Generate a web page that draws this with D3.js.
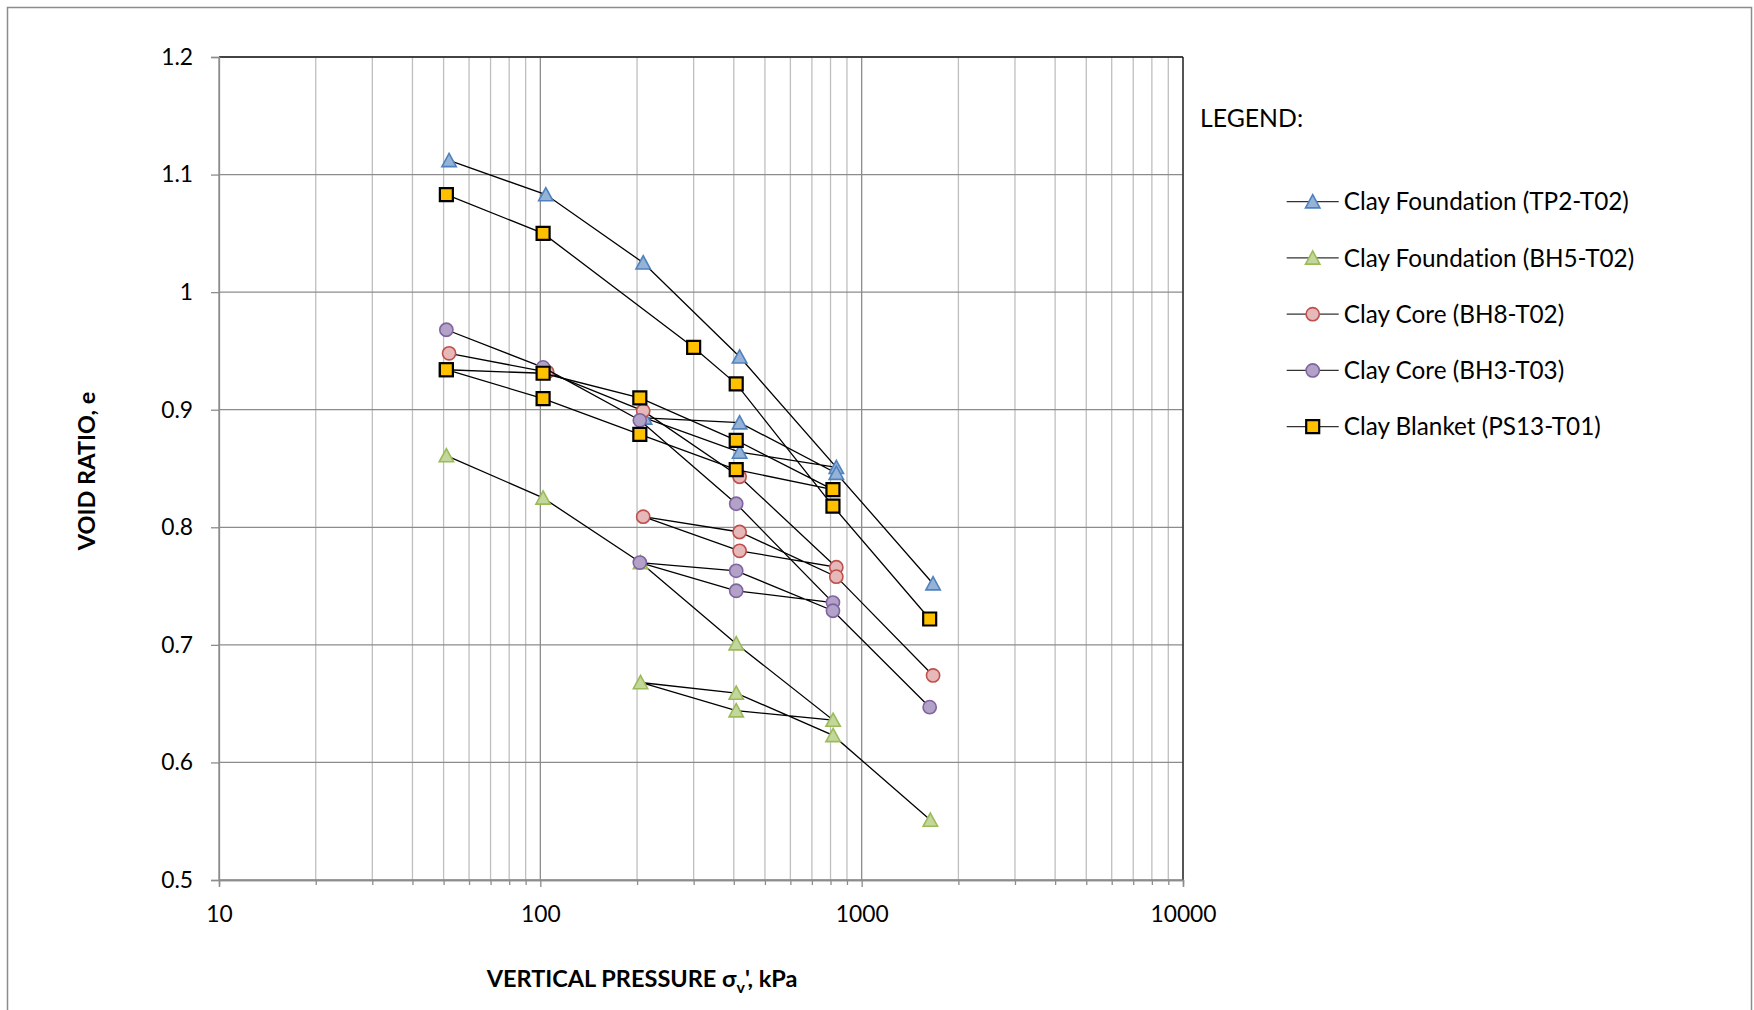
<!DOCTYPE html>
<html>
<head>
<meta charset="utf-8">
<script src="https://cdn.jsdelivr.net/npm/d3@7"></script>
<style>
  html, body { margin: 0; padding: 0; background: #ffffff; }
  svg { display: block; }
  text { font-family: Lato, "Open Sans", "Liberation Sans", sans-serif; fill: #000;
         font-variant-ligatures: none; font-feature-settings: "liga" 0, "clig" 0; }
</style>
</head>
<body>
<svg id="chart" width="1754" height="1010"></svg>
<script>
// Oedometer results: void ratio vs. vertical effective pressure (log scale)

const seriesNames = [
  "Clay Foundation (TP2-T02)",
  "Clay Foundation (BH5-T02)",
  "Clay Core (BH8-T02)",
  "Clay Core (BH3-T03)",
  "Clay Blanket (PS13-T01)"
];

// Pressures in kPa, void ratios e (null breaks the line)
const tp2Pressure = [52, 104, 209, 417, 834, 417, 211, 417, 834, 1668];
const tp2Void     = [1.112, 1.083, 1.025, 0.945, 0.851, 0.864, 0.893, 0.889, 0.846, 0.752];

const bh5Pressure = [51, 102, 205, 407, 815, 407, 205, 407, 815, 1636];
const bh5Void     = [0.861, 0.825, 0.770, 0.701, 0.636, 0.644, 0.668, 0.659, 0.623, 0.551];

const bh8Pressure = [52, 105, 209, 417, 834, 417, 209, 417, 834, 1668];
const bh8Void     = [0.948, 0.932, 0.899, 0.843, 0.766, 0.780, 0.809, 0.796, 0.758, 0.674];

const bh3Pressure = [51, 102, 204, 407, 814, 407, 204, 407, 814, 1628];
const bh3Void     = [0.968, 0.936, 0.891, 0.820, 0.736, 0.746, 0.770, 0.763, 0.729, 0.647];

const ps13Pressure = [51, 102, 300, 407, 814, 1628, null, 51, 102, 204, 407, 814, 407, 204, 102, 51];
const ps13Void     = [1.083, 1.050, 0.953, 0.922, 0.818, 0.722, null, 0.934, 0.931, 0.910, 0.874, 0.832, 0.849, 0.879, 0.9095, 0.934];

const xTicks = [10, 100, 1000, 10000];
const xTickLabels = ["10", "100", "1000", "10000"];
const yTicks = [0.5, 0.6, 0.7, 0.8, 0.9, 1.0, 1.1, 1.2];
const yTickLabels = ["0.5", "0.6", "0.7", "0.8", "0.9", "1", "1.1", "1.2"];

const markerShapes = ["triangle", "triangle", "circle", "circle", "square"];
const markerFills   = ["#95B3D7", "#C3D69B", "#E6B9B8", "#B3A2C7", "#FFC000"];
const markerStrokes = ["#4F81BD", "#9BBB59", "#C0504D", "#8064A2", "#000000"];

const pressures = [tp2Pressure, bh5Pressure, bh8Pressure, bh3Pressure, ps13Pressure];
const voids = [tp2Void, bh5Void, bh8Void, bh3Void, ps13Void];

const svg = d3.select("#chart");
const plot = { left: 219, right: 1183, top: 57, bottom: 880 };

const x = d3.scaleLog().domain([10, 10000]).range([plot.left, plot.right]);
const y = d3.scaleLinear().domain([0.5, 1.2]).range([plot.bottom, plot.top]);

// outer frame
svg.append("rect")
  .attr("x", 7.5).attr("y", 7.5)
  .attr("width", 1744).attr("height", 1030)
  .attr("fill", "none").attr("stroke", "#8c8c8c").attr("stroke-width", 1.5);

// minor + major log gridlines
const minorX = [];
for (let d = 10; d < 10000; d *= 10) {
  for (let k = 2; k <= 9; k++) minorX.push(d * k);
}
const grid = svg.append("g");
grid.selectAll("line.minor").data(minorX).join("line")
  .attr("x1", d => x(d)).attr("x2", d => x(d))
  .attr("y1", plot.top).attr("y2", plot.bottom)
  .attr("stroke", "#bfbfbf").attr("stroke-width", 1.3);
grid.selectAll("line.majorx").data(xTicks).join("line")
  .attr("x1", d => x(d)).attr("x2", d => x(d))
  .attr("y1", plot.top).attr("y2", plot.bottom)
  .attr("stroke", "#8c8c8c").attr("stroke-width", 1.3);
grid.selectAll("line.majory").data(yTicks).join("line")
  .attr("x1", plot.left).attr("x2", plot.right)
  .attr("y1", d => y(d)).attr("y2", d => y(d))
  .attr("stroke", "#8c8c8c").attr("stroke-width", 1.3);

// plot frame top/right
svg.append("line").attr("x1", plot.left).attr("x2", plot.right)
  .attr("y1", plot.top).attr("y2", plot.top).attr("stroke", "#222").attr("stroke-width", 1.3);
svg.append("line").attr("x1", plot.right).attr("x2", plot.right)
  .attr("y1", plot.top).attr("y2", plot.bottom).attr("stroke", "#222").attr("stroke-width", 1.3);

// axes
const yAxis = svg.append("g").attr("transform", `translate(${plot.left},0)`)
  .call(d3.axisLeft(y).tickValues(yTicks).tickSize(8).tickPadding(18)
    .tickFormat((d, i) => yTickLabels[i]));
const xMinorAxis = svg.append("g").attr("transform", `translate(0,${plot.bottom})`)
  .call(d3.axisBottom(x).tickValues(minorX).tickSize(5).tickFormat(""));
const xAxis = svg.append("g").attr("transform", `translate(0,${plot.bottom})`)
  .call(d3.axisBottom(x).tickValues(xTicks).tickSize(7).tickPadding(19)
    .tickFormat((d, i) => xTickLabels[i]));
[yAxis, xMinorAxis, xAxis].forEach(g => {
  g.select(".domain").attr("stroke", "#8c8c8c").attr("stroke-width", 1.3);
  g.selectAll(".tick line").attr("stroke", "#8c8c8c").attr("stroke-width", 1.3);
  g.selectAll(".tick text").attr("font-size", 22.8).attr("font-family", "Lato, sans-serif").attr("fill", "#000");
});

// axis titles
svg.append("text")
  .attr("transform", "translate(95,471) rotate(-90)")
  .attr("text-anchor", "middle")
  .attr("font-size", 23.5).attr("font-weight", "bold")
  .text("VOID RATIO, e");
const xt = svg.append("text")
  .attr("x", 642).attr("y", 987)
  .attr("text-anchor", "middle")
  .attr("font-size", 23.5).attr("font-weight", "bold");
xt.append("tspan").text("VERTICAL PRESSURE σ");
xt.append("tspan").attr("font-size", 16).attr("dy", 6).text("v");
xt.append("tspan").attr("dy", -6).text("', kPa");

// marker path generator (centred on 0,0)
function markerPath(shape) {
  if (shape === "triangle") return "M0,-7L7.2,6.2L-7.2,6.2Z";
  if (shape === "square") return "M-6.5,-6.5H6.5V6.5H-6.5Z";
  return d3.symbol(d3.symbolCircle, Math.PI * 6.6 * 6.6)();
}

const line = d3.line()
  .defined(d => d.p !== null)
  .x(d => x(d.p)).y(d => y(d.e));

seriesNames.forEach((name, i) => {
  const pts = pressures[i].map((p, j) => ({ p, e: voids[i][j] }));
  const g = svg.append("g").attr("class", "series");
  g.append("path").datum(pts)
    .attr("d", line)
    .attr("fill", "none").attr("stroke", "#000").attr("stroke-width", 1.3);
  g.selectAll("path.mk").data(pts.filter(d => d.p !== null)).join("path")
    .attr("class", "mk")
    .attr("transform", d => `translate(${x(d.p)},${y(d.e)})`)
    .attr("d", markerPath(markerShapes[i]))
    .attr("fill", markerFills[i])
    .attr("stroke", markerStrokes[i])
    .attr("stroke-width", markerShapes[i] === "square" ? 2.2 : 1.6);
});

// legend
svg.append("text").attr("x", 1200).attr("y", 127)
  .attr("font-size", 24.8).text("LEGEND:");
const legend = svg.append("g");
seriesNames.forEach((name, i) => {
  const cy = 201.7 + i * 56.25;
  const g = legend.append("g").attr("transform", `translate(1312.7,${cy})`);
  g.append("line").attr("x1", -26).attr("x2", 26).attr("y1", 0).attr("y2", 0)
    .attr("stroke", "#333").attr("stroke-width", 1.3);
  g.append("path").attr("d", markerPath(markerShapes[i]))
    .attr("fill", markerFills[i]).attr("stroke", markerStrokes[i])
    .attr("stroke-width", markerShapes[i] === "square" ? 2.2 : 1.6);
  g.append("text").attr("x", 31).attr("y", 0).attr("dy", "0.36em")
    .attr("font-size", 24.3).text(name);
});
</script>
</body>
</html>
